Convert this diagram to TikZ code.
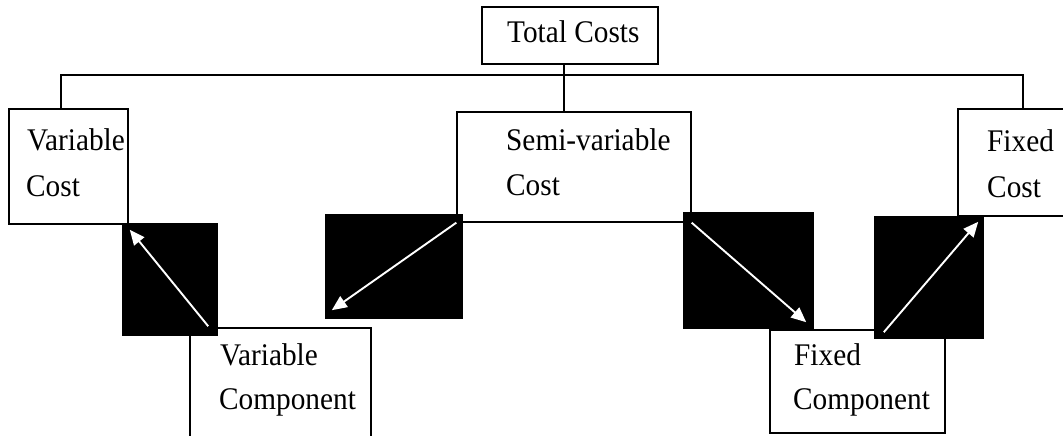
\documentclass[tikz,border=0pt]{standalone}
\usepackage{fontspec}
\setmainfont{Liberation Serif}[FakeStretch=0.93]
\usetikzlibrary{arrows.meta}
\begin{document}
\begin{tikzpicture}[x=1pt,y=-1pt,
  box/.style={draw=black,line width=1.3pt,fill=white,rectangle,inner sep=0pt},
  shade/.style={fill=black,rectangle,inner sep=0pt},
  txt/.style={anchor=base west,inner sep=0pt,font=\fontsize{31.5}{36}\selectfont},
  link/.style={draw=black,line width=1.3pt},
  warrow/.style={draw=white,line width=1.9pt,-{Triangle[length=15pt,width=13pt,fill=white]}}]
\useasboundingbox (0,0) rectangle (1063,436);
\clip (0,0) rectangle (1063,436);

% boxes
\node[box,minimum width=176pt,minimum height=57pt] (total) at (570,35.5) {};
\node[box,minimum width=119pt,minimum height=115pt] (varc) at (68.5,166.5) {};
\node[box,minimum width=234pt,minimum height=110pt] (semi) at (574,167) {};
\node[box,minimum width=122pt,minimum height=107pt] (fixc) at (1019,162.5) {};
\node[box,minimum width=181pt,minimum height=132pt] (varcomp) at (280.5,394) {};
\node[box,minimum width=175pt,minimum height=103pt] (fixcomp) at (857.5,381.5) {};

% tree connectors
\coordinate (busL) at (61,75);
\coordinate (busR) at (1023,75);
\coordinate (drop) at (564,75);
\draw[link] (varc.north -| busL) -- (busL) -- (busR) -- (fixc.north -| busR);
\draw[link] (total.south -| drop) -- (semi.north -| drop);

% black squares
\node[shade,minimum width=96pt,minimum height=113pt] (sq1) at (170,279.5) {};
\node[shade,minimum width=138pt,minimum height=105pt] (sq2) at (394,266.5) {};
\node[shade,minimum width=131pt,minimum height=117pt] (sq3) at (748.5,270.5) {};
\node[shade,minimum width=110pt,minimum height=123pt] (sq4) at (929,277.5) {};

% white arrows
\draw[warrow] ([shift={(-10,-10)}]sq1.south east) -- ([shift={(8,7)}]sq1.north west);
\draw[warrow] (semi.south west) -- ([shift={(7,-9)}]sq2.south west);
\draw[warrow] (semi.south east) -- ([shift={(-8,-7)}]sq3.south east);
\draw[warrow] ([shift={(10,-7)}]sq4.south west) -- ([shift={(-6,6)}]sq4.north east);

% labels
\node[txt] (tTotal) at (507,43) {Total Costs};
\node[txt] (tVar1) at (27,150) {Variable};
\node[txt] (tVar2) at (26,196) {Cost};
\node[txt] (tSemi1) at (506,150) {Semi-variable};
\node[txt] (tSemi2) at (506,195) {Cost};
\node[txt] (tFix1) at (987,151) {Fixed};
\node[txt] (tFix2) at (987,197) {Cost};
\node[txt] (tVc1) at (220,365) {Variable};
\node[txt] (tVc2) at (219,409) {Component};
\node[txt] (tFc1) at (794,365) {Fixed};
\node[txt] (tFc2) at (793,409) {Component};
\end{tikzpicture}
\end{document}
